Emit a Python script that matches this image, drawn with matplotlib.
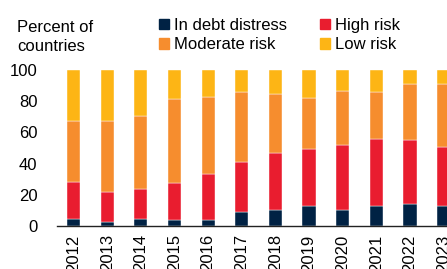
import matplotlib
matplotlib.use('Agg')
from matplotlib import pyplot as plt
from matplotlib.patches import Patch
import numpy as np

plt.rcParams['font.family'] = ['Liberation Sans', 'DejaVu Sans']

years = ['2012', '2013', '2014', '2015', '2016', '2017', '2018', '2019',
         '2020', '2021', '2022', '2023']
distress = [4.5, 2.8, 4.3, 3.8, 3.8, 9.0, 10.3, 13.0, 10.3, 13.0, 14.3, 13.0]
high = [23.9, 18.8, 19.6, 23.5, 29.7, 32.2, 36.3, 36.1, 41.6, 42.8, 40.8, 37.6]
moderate = [39.1, 45.9, 46.8, 54.1, 49.4, 44.9, 38.2, 32.9, 34.6, 30.1, 35.9, 40.4]
low = [100 - d - h - m for d, h, m in zip(distress, high, moderate)]

labels = ['In debt distress', 'High risk', 'Moderate risk', 'Low risk']
colors = ['#002244', '#E91D2F', '#F68D2E', '#FDB515']

fig = plt.figure(figsize=(4.47, 2.69), dpi=100)
ax = fig.add_axes([57 / 447, 1 - 226 / 269, 1 - 57 / 447, 156 / 269])

x = np.arange(len(years))
w = 0.39
bottom = np.zeros(len(years))
for vals, c in zip([distress, high, moderate, low], colors):
    ax.bar(x, vals, w, bottom=bottom, color=c, edgecolor='white', linewidth=0.3)
    bottom += np.array(vals)

ax.set_ylim(0, 100)
ax.set_xlim(-0.49, 11.1)
ax.set_yticks([0, 20, 40, 60, 80, 100])
ax.set_xticks(x)
ax.set_xticklabels(years, rotation=90)
ax.tick_params(axis='both', length=0, labelsize=12)
ax.tick_params(axis='y', pad=14)
ax.tick_params(axis='x', pad=6)
for s in ['top', 'right', 'left']:
    ax.spines[s].set_visible(False)
ax.spines['bottom'].set_linewidth(1.0)
ax.spines['bottom'].set_color('#222222')

fig.text(17 / 447, 1 - 20 / 269, 'Percent of\ncountries', fontsize=12,
         va='top', ha='left', linespacing=1.3)

order = [0, 2, 1, 3]
handles = [Patch(color=colors[i]) for i in order]
fig.legend(handles, [labels[i] for i in order], ncol=2, frameon=False,
           loc='upper left', bbox_to_anchor=(159 / 447, 1 - 18 / 269),
           fontsize=12, handlelength=0.6, handleheight=0.6,
           handletextpad=0.3, columnspacing=2.0, labelspacing=0.25,
           borderpad=0, borderaxespad=0)

fig.savefig('out.png', dpi=100)
